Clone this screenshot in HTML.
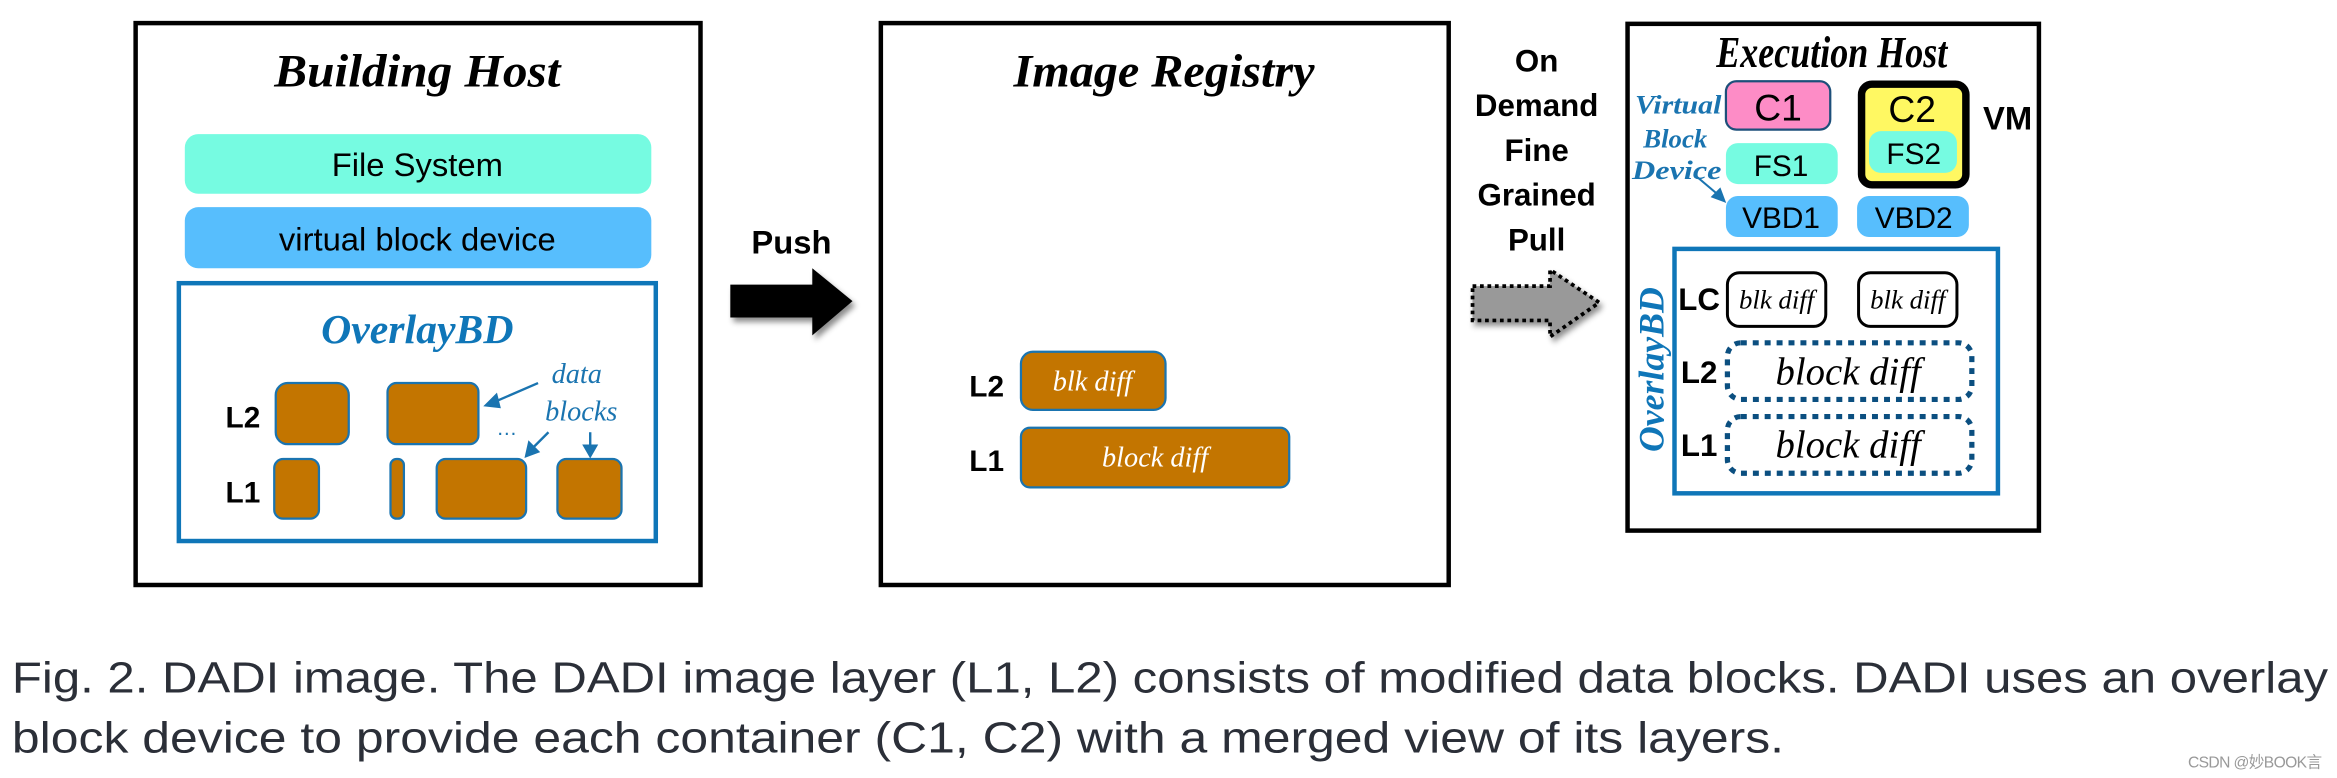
<!DOCTYPE html>
<html><head><meta charset="utf-8"><style>html,body{margin:0;padding:0;background:#fff}svg{display:block}</style></head>
<body>
<svg width="2337" height="778" viewBox="0 0 1568 522" preserveAspectRatio="none" xmlns="http://www.w3.org/2000/svg">
<defs>
<filter id="sh" x="-20%" y="-20%" width="150%" height="160%"><feDropShadow dx="2" dy="3" stdDeviation="2" flood-color="#000" flood-opacity="0.45"/></filter>
</defs>
<g font-family="Liberation Sans, sans-serif">
<!-- Building Host -->
<rect x="91" y="15.5" width="379" height="377" fill="#fff" stroke="#000" stroke-width="3"/>
<text x="280" y="58" text-anchor="middle" font-family="Liberation Serif, serif" font-style="italic" font-weight="bold" font-size="31" textLength="192" lengthAdjust="spacingAndGlyphs">Building Host</text>
<rect x="124" y="90" width="313" height="40" rx="9" fill="#76fbe1"/>
<text x="280" y="118" text-anchor="middle" font-size="22">File System</text>
<rect x="124" y="139" width="313" height="41" rx="9" fill="#57befd"/>
<text x="280" y="168" text-anchor="middle" font-size="22">virtual block device</text>
<rect x="120" y="190" width="320" height="173" fill="none" stroke="#0f76b8" stroke-width="3"/>
<text x="280" y="230" text-anchor="middle" font-family="Liberation Serif, serif" font-style="italic" font-weight="bold" font-size="28" fill="#0f76b8">OverlayBD</text>
<text x="163" y="287" text-anchor="middle" font-weight="bold" font-size="20">L2</text>
<text x="163" y="337" text-anchor="middle" font-weight="bold" font-size="20">L1</text>
<g fill="#c37500" stroke="#1a74b0" stroke-width="1.5">
<rect x="185" y="257" width="49" height="41" rx="8"/>
<rect x="260" y="257" width="61" height="41" rx="6"/>
<rect x="184" y="308" width="30" height="40" rx="6"/>
<rect x="262" y="308" width="9" height="40" rx="4"/>
<rect x="293" y="308" width="60" height="40" rx="6"/>
<rect x="374" y="308" width="43" height="40" rx="6"/>
</g>
<g font-family="Liberation Serif, serif" font-style="italic" font-size="19" fill="#1a74b0" text-anchor="middle">
<text x="387" y="257">data</text><text x="390" y="282">blocks</text></g>
<text x="340" y="292" text-anchor="middle" font-size="14" fill="#1a74b0">…</text>
<g stroke="#1a74b0" stroke-width="1.6" fill="#1a74b0">
<line x1="361" y1="257" x2="331" y2="270"/><polygon points="326,272 333,265 335,273"/>
<line x1="368" y1="290" x2="357" y2="301"/><polygon points="353,306 355,297 361,303"/>
<line x1="396" y1="290" x2="396" y2="300"/><polygon points="396,306 392,299 400,299"/>
</g>
<!-- Push arrow -->
<text x="531" y="170" text-anchor="middle" font-weight="bold" font-size="22">Push</text>
<polygon points="490,191 545,191 545,180 572,202 545,225 545,213 490,213" fill="#000" filter="url(#sh)"/>
<!-- Registry -->
<rect x="591" y="15.5" width="381" height="377" fill="#fff" stroke="#000" stroke-width="3"/>
<text x="781" y="58" text-anchor="middle" font-family="Liberation Serif, serif" font-style="italic" font-weight="bold" font-size="31" textLength="202" lengthAdjust="spacingAndGlyphs">Image Registry</text>
<text x="662" y="266" text-anchor="middle" font-weight="bold" font-size="20">L2</text>
<text x="662" y="316" text-anchor="middle" font-weight="bold" font-size="20">L1</text>
<rect x="685" y="236" width="97" height="39" rx="8" fill="#c37500" stroke="#1a74b0" stroke-width="1.5"/>
<rect x="685" y="287" width="180" height="40" rx="6" fill="#c37500" stroke="#1a74b0" stroke-width="1.5"/>
<g font-family="Liberation Serif, serif" font-style="italic" font-size="19" fill="#fff" text-anchor="middle">
<text x="733" y="262">blk diff</text><text x="775" y="313">block diff</text></g>
<!-- Pull -->
<g font-weight="bold" font-size="21" text-anchor="middle">
<text x="1031" y="48">On</text><text x="1031" y="78">Demand</text><text x="1031" y="108">Fine</text><text x="1031" y="138">Grained</text><text x="1031" y="168">Pull</text></g>
<polygon points="988,192 1040,192 1040,181 1073,203 1040,226 1040,215 988,215" fill="#999" stroke="#000" stroke-width="2.5" stroke-dasharray="2.5,2.5" filter="url(#sh)"/>
<!-- Execution host -->
<rect x="1092" y="16" width="276" height="340" fill="#fff" stroke="#000" stroke-width="3"/>
<text x="1229" y="45" text-anchor="middle" font-family="Liberation Serif, serif" font-style="italic" font-weight="bold" font-size="30" textLength="155" lengthAdjust="spacingAndGlyphs">Execution Host</text>
<g font-family="Liberation Serif, serif" font-style="italic" font-weight="bold" font-size="18" fill="#1a74b0" text-anchor="middle">
<text x="1126" y="76" textLength="58" lengthAdjust="spacingAndGlyphs">Virtual</text><text x="1124" y="99">Block</text><text x="1125" y="120" textLength="60" lengthAdjust="spacingAndGlyphs">Device</text></g>
<g stroke="#1a74b0" stroke-width="1.4" fill="#1a74b0"><line x1="1139" y1="119" x2="1152" y2="130"/><polygon points="1157,135 1149,132 1154,127"/></g>
<rect x="1158" y="54.5" width="70" height="32.5" rx="7" fill="#fd8cc6" stroke="#1d4f7a" stroke-width="1.5"/>
<text x="1193" y="81" text-anchor="middle" font-size="25">C1</text>
<rect x="1158" y="96" width="75" height="27.5" rx="8" fill="#76fbe1"/>
<text x="1195" y="118" text-anchor="middle" font-size="20">FS1</text>
<rect x="1158" y="131.5" width="75" height="27.5" rx="8" fill="#57befd"/>
<text x="1195" y="153" text-anchor="middle" font-size="20">VBD1</text>
<rect x="1249" y="56.5" width="70" height="67.5" rx="7" fill="#fff862" stroke="#000" stroke-width="5"/>
<text x="1283" y="82" text-anchor="middle" font-size="25">C2</text>
<rect x="1254" y="88" width="59" height="28" rx="8" fill="#76fbe1"/>
<text x="1284" y="110" text-anchor="middle" font-size="20">FS2</text>
<rect x="1246" y="131.5" width="75" height="27.5" rx="8" fill="#57befd"/>
<text x="1284" y="153" text-anchor="middle" font-size="20">VBD2</text>
<text x="1347" y="87" text-anchor="middle" font-weight="bold" font-size="22">VM</text>
<rect x="1123.5" y="167" width="217" height="164" fill="none" stroke="#0f76b8" stroke-width="3"/>
<text transform="translate(1116,248) rotate(-90)" text-anchor="middle" font-family="Liberation Serif, serif" font-style="italic" font-weight="bold" font-size="24" fill="#0f76b8">OverlayBD</text>
<g font-weight="bold" font-size="21" text-anchor="middle"><text x="1140" y="208">LC</text><text x="1140" y="257">L2</text><text x="1140" y="306">L1</text></g>
<rect x="1159" y="183" width="66" height="36" rx="8" fill="#fff" stroke="#000" stroke-width="2"/>
<rect x="1247" y="183" width="66" height="36" rx="8" fill="#fff" stroke="#000" stroke-width="2"/>
<g font-family="Liberation Serif, serif" font-style="italic" font-size="18" text-anchor="middle"><text x="1192" y="207">blk diff</text><text x="1280" y="207">blk diff</text></g>
<rect x="1159" y="230" width="164" height="38" rx="9" fill="none" stroke="#0b4f80" stroke-width="3.5" stroke-dasharray="4,4"/>
<rect x="1159" y="279.5" width="164" height="38" rx="9" fill="none" stroke="#0b4f80" stroke-width="3.5" stroke-dasharray="4,4"/>
<g font-family="Liberation Serif, serif" font-style="italic" font-size="26" text-anchor="middle"><text x="1240" y="258">block diff</text><text x="1240" y="307">block diff</text></g>
</g>
<!-- caption -->
<g font-family="Liberation Sans, sans-serif" font-size="29" fill="#2b2f38">
<text x="8" y="464.5" textLength="1554" lengthAdjust="spacingAndGlyphs">Fig. 2.  DADI image. The DADI image layer (L1, L2) consists of modified data blocks. DADI uses an overlay</text>
<text x="8" y="505" textLength="1189" lengthAdjust="spacingAndGlyphs">block device to provide each container (C1, C2) with a merged view of its layers.</text>
</g>
<text x="1468" y="515" font-family="Liberation Sans, 'Noto Sans CJK SC', sans-serif" font-size="10.5" fill="#999" textLength="90">CSDN @妙BOOK言</text>
</svg>
</body></html>
